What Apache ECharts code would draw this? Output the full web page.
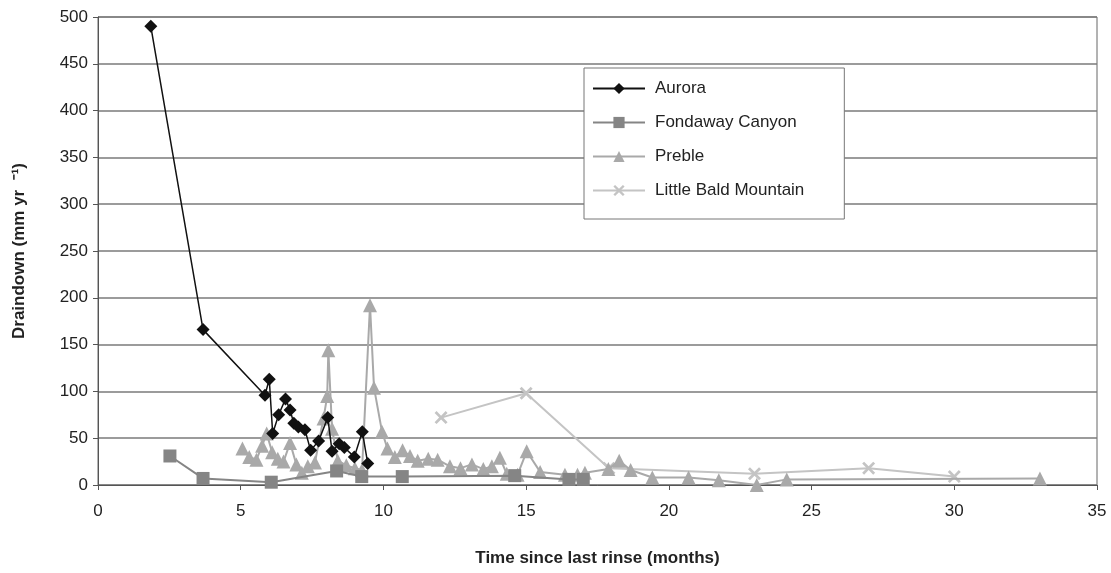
<!DOCTYPE html>
<html>
<head>
<meta charset="utf-8">
<script src="https://cdn.jsdelivr.net/npm/echarts@6/dist/echarts.min.js"></script>
<style>
  html, body { margin: 0; padding: 0; background: #fff; }
  #main { width: 1111px; height: 573px; }
</style>
</head>
<body>
<div id="main"></div>
<script>
// 数据：[月份, 排水量]
const aurora = [
    [1.85, 490], [3.68, 166], [5.85, 96], [6.0, 113], [6.12, 55], [6.33, 75],
    [6.57, 92], [6.73, 80], [6.86, 66], [7.02, 62], [7.25, 59], [7.45, 37],
    [7.73, 47], [8.05, 72], [8.2, 36], [8.45, 44], [8.63, 40], [8.98, 30],
    [9.26, 57], [9.45, 23]
];
const fondaway = [
    [2.52, 31], [3.68, 7], [6.07, 3], [8.36, 15], [9.24, 9], [10.66, 9],
    [14.6, 10], [16.5, 6], [17.0, 6]
];
const preble = [
    [5.06, 39], [5.3, 30], [5.55, 27], [5.75, 42], [5.91, 55], [6.1, 35],
    [6.3, 28], [6.5, 25], [6.73, 45], [6.95, 22], [7.14, 13], [7.35, 20],
    [7.6, 24], [7.9, 71], [8.03, 95], [8.07, 144], [8.2, 60], [8.4, 26],
    [8.7, 21], [9.0, 18], [9.25, 16], [9.53, 192], [9.67, 104], [9.95, 57],
    [10.14, 39], [10.4, 30], [10.67, 37], [10.93, 31], [11.2, 26], [11.57, 28],
    [11.9, 27], [12.33, 20], [12.7, 18], [13.1, 22], [13.5, 17], [13.8, 20],
    [14.08, 29], [14.32, 12], [14.7, 11], [15.02, 36], [15.49, 14], [16.36, 11],
    [16.8, 11], [17.06, 13], [17.88, 17], [18.26, 26], [18.66, 16], [19.42, 8],
    [20.69, 8], [21.75, 5], [23.08, 0], [24.13, 6], [33.0, 7]
];
const littleBald = [
    [12.02, 72], [15.0, 98], [17.9, 18], [23.0, 12], [27.0, 18], [30.0, 9]
];
const seriesNames = ['Aurora', 'Fondaway Canyon', 'Preble', 'Little Bald Mountain'];

const xSymbol = 'path://M0,1.5L1.5,0L5,3.5L8.5,0L10,1.5L6.5,5L10,8.5L8.5,10L5,6.5L1.5,10L0,8.5L3.5,5Z';

let myChart = echarts.init(document.getElementById('main'));

option = {
    backgroundColor: '#fff',
    textStyle: { fontFamily: 'Liberation Sans, Arial, sans-serif' },
    animation: false,
    grid: {
        left: 98,
        right: 14,
        top: 17,
        bottom: 88,
        show: true,
        borderColor: '#666',
        borderWidth: 1
    },
    legend: {
        orient: 'vertical',
        left: 584,
        top: 68,
        padding: [12, 40, 20, 8],
        itemWidth: 52,
        itemHeight: 14,
        itemGap: 17,
        backgroundColor: '#fff',
        borderColor: '#777',
        borderWidth: 1,
        textStyle: { fontSize: 17, color: '#222', padding: [0, 0, 0, 5] },
        data: seriesNames
    },
    xAxis: {
        type: 'value',
        min: 0,
        max: 35,
        interval: 5,
        name: 'Time since last rinse (months)',
        nameLocation: 'middle',
        nameGap: 65,
        nameTextStyle: { fontSize: 17, fontWeight: 'bold', color: '#222' },
        axisLine: { lineStyle: { color: '#555' } },
        axisTick: { show: true, length: 5, lineStyle: { color: '#555' } },
        axisLabel: { fontSize: 17, color: '#222', margin: 18 },
        splitLine: { show: false }
    },
    yAxis: {
        type: 'value',
        min: 0,
        max: 500,
        interval: 50,
        name: 'Draindown (mm yr  ⁻¹)',
        nameLocation: 'middle',
        nameGap: 70,
        nameTextStyle: { fontSize: 17, fontWeight: 'bold', color: '#222' },
        axisLine: { show: true, lineStyle: { color: '#555' } },
        axisTick: { show: true, length: 5, lineStyle: { color: '#555' } },
        axisLabel: { fontSize: 17, color: '#222', margin: 10 },
        splitLine: { show: true, lineStyle: { color: '#7a7a7a', width: 1.5 } }
    },
    series: [
        {
            name: 'Little Bald Mountain',
            type: 'line',
            data: littleBald,
            symbol: xSymbol,
            symbolSize: 13,
            lineStyle: { color: '#c4c4c4', width: 2 },
            itemStyle: { color: '#c4c4c4' },
            z: 2
        },
        {
            name: 'Preble',
            type: 'line',
            data: preble,
            symbol: 'triangle',
            symbolSize: 14,
            lineStyle: { color: '#a9a9a9', width: 2 },
            itemStyle: { color: '#a9a9a9' },
            z: 3
        },
        {
            name: 'Fondaway Canyon',
            type: 'line',
            data: fondaway,
            symbol: 'rect',
            symbolSize: 13,
            lineStyle: { color: '#858585', width: 2 },
            itemStyle: { color: '#858585' },
            z: 4
        },
        {
            name: 'Aurora',
            type: 'line',
            data: aurora,
            symbol: 'diamond',
            symbolSize: 13,
            lineStyle: { color: '#111', width: 1.5 },
            itemStyle: { color: '#111' },
            z: 5
        }
    ]
};
myChart.setOption(option);
</script>
</body>
</html>
